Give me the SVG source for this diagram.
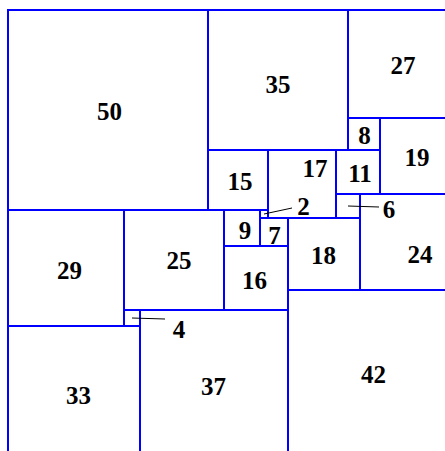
<svg xmlns="http://www.w3.org/2000/svg" width="445" height="451" viewBox="0 0 445 451">
<style>
rect.sq{fill:none;stroke:#0000ff;stroke-width:2}
text{font-family:"Liberation Serif","Times New Roman",serif;font-weight:bold;font-size:25px;fill:#000000;text-anchor:middle}
line.lead{stroke:#000000;stroke-width:1}
</style>
<rect x="0" y="0" width="445" height="451" fill="#ffffff"/>
<g id="sq50"><rect class="sq" x="8" y="10" width="200" height="200"/><text x="109.5" y="120">50</text></g>
<g id="sq35"><rect class="sq" x="208" y="10" width="140" height="140"/><text x="278" y="93">35</text></g>
<g id="sq27"><rect class="sq" x="348" y="10" width="108" height="108"/><text x="403" y="74">27</text></g>
<g id="sq8"><rect class="sq" x="348" y="118" width="32" height="32"/><text x="364.5" y="144">8</text></g>
<g id="sq19"><rect class="sq" x="380" y="118" width="76" height="76"/><text x="417" y="166">19</text></g>
<g id="sq15"><rect class="sq" x="208" y="150" width="60" height="60"/><text x="240" y="190">15</text></g>
<g id="sq17"><rect class="sq" x="268" y="150" width="68" height="68"/><text x="315" y="177">17</text></g>
<g id="sq11"><rect class="sq" x="336" y="150" width="44" height="44"/><text x="360" y="182">11</text></g>
<g id="sq6"><rect class="sq" x="336" y="194" width="24" height="24"/><text x="389" y="218">6</text></g>
<g id="sq24"><rect class="sq" x="360" y="194" width="96" height="96"/><text x="420" y="263">24</text></g>
<g id="sq29"><rect class="sq" x="8" y="210" width="116" height="116"/><text x="69.5" y="279">29</text></g>
<g id="sq25"><rect class="sq" x="124" y="210" width="100" height="100"/><text x="179" y="269">25</text></g>
<g id="sq9"><rect class="sq" x="224" y="210" width="36" height="36"/><text x="245" y="239">9</text></g>
<g id="sq2"><rect class="sq" x="260" y="210" width="8" height="8"/><text x="303.5" y="215">2</text></g>
<g id="sq7"><rect class="sq" x="260" y="218" width="28" height="28"/><text x="274.5" y="244">7</text></g>
<g id="sq18"><rect class="sq" x="288" y="218" width="72" height="72"/><text x="323.5" y="264">18</text></g>
<g id="sq16"><rect class="sq" x="224" y="246" width="64" height="64"/><text x="254.5" y="289">16</text></g>
<g id="sq4"><rect class="sq" x="124" y="310" width="16" height="16"/><text x="179" y="338">4</text></g>
<g id="sq33"><rect class="sq" x="8" y="326" width="132" height="132"/><text x="78.5" y="404">33</text></g>
<g id="sq37"><rect class="sq" x="140" y="310" width="148" height="148"/><text x="213.5" y="395">37</text></g>
<g id="sq42"><rect class="sq" x="288" y="290" width="168" height="168"/><text x="373.5" y="383">42</text></g>
<g id="connectors">
<line class="lead" x1="264" y1="214" x2="292" y2="208"/>
<line class="lead" x1="348" y1="206" x2="379" y2="207"/>
<line class="lead" x1="132" y1="318" x2="165" y2="319"/>
</g>
</svg>
